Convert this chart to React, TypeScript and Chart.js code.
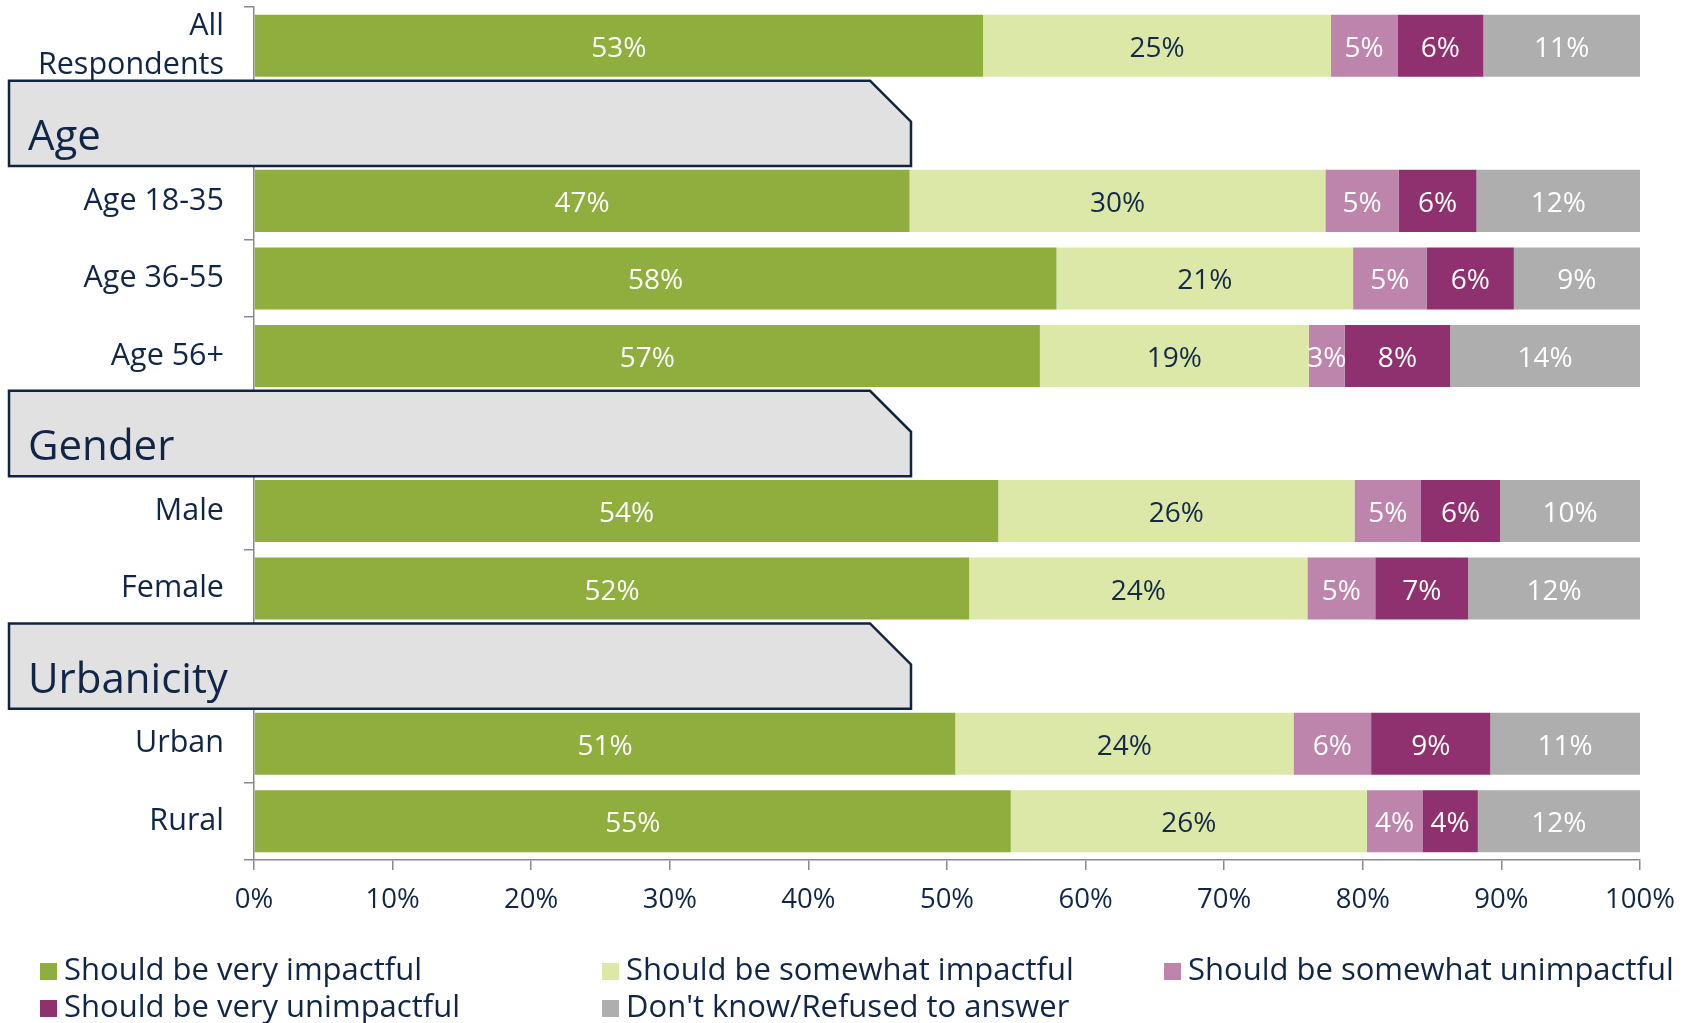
import React, { useEffect, useRef } from 'react';
import { Chart, registerables } from 'chart.js';

Chart.register(...registerables);

// ---- Data ----
const categories: (string | string[])[] = [
  ['All', 'Respondents'],
  '',
  'Age 18-35',
  'Age 36-55',
  'Age 56+',
  '',
  'Male',
  'Female',
  '',
  'Urban',
  'Rural',
];

const headerIndices = [1, 5, 8];
const headerLabels = ['Age', 'Gender', 'Urbanicity'];

const seriesNames = [
  'Should be very impactful',
  'Should be somewhat impactful',
  'Should be somewhat unimpactful',
  'Should be very unimpactful',
  "Don't know/Refused to answer",
];

const veryImpactful = [52.6, null, 47.3, 57.9, 56.7, null, 53.7, 51.6, null, 50.6, 54.6];
const somewhatImpactful = [25.1, null, 30.0, 21.4, 19.4, null, 25.7, 24.4, null, 24.4, 25.7];
const somewhatUnimpactful = [4.8, null, 5.3, 5.3, 2.6, null, 4.8, 4.9, null, 5.6, 4.0];
const veryUnimpactful = [6.2, null, 5.6, 6.3, 7.6, null, 5.7, 6.7, null, 8.6, 4.0];
const dontKnow = [11.3, null, 11.8, 9.1, 13.7, null, 10.1, 12.4, null, 10.8, 11.7];

const seriesValues = [veryImpactful, somewhatImpactful, somewhatUnimpactful, veryUnimpactful, dontKnow];

const seriesColors = ['#8FAE3E', '#DCE8A8', '#BD84AC', '#8F316F', '#AEAEAF'];
const labelColors = ['#FFFFFF', '#13294B', '#FFFFFF', '#FFFFFF', '#FFFFFF'];

const xTickValues = [0, 10, 20, 30, 40, 50, 60, 70, 80, 90, 100];

// ---- Styles ----
const FONT = "'Open Sans', 'Noto Sans', sans-serif";
const NAVY = '#112646';
const AXIS_GRAY = '#8A8A8A';

const dataLabelPlugin = {
  id: 'dataLabels',
  afterDatasetsDraw(chart: any) {
    const ctx = chart.ctx;
    ctx.save();
    ctx.font = `28px ${FONT}`;
    ctx.textAlign = 'center';
    ctx.textBaseline = 'middle';
    chart.data.datasets.forEach((ds: any, di: number) => {
      const meta = chart.getDatasetMeta(di);
      meta.data.forEach((el: any, i: number) => {
        const v = ds.data[i];
        if (v === null || v === undefined) return;
        const p = el.getProps(['x', 'y', 'base'], true);
        ctx.fillStyle = ds.labelColor;
        ctx.fillText(`${Math.round(v)}%`, (p.x + p.base) / 2, p.y + 3);
      });
    });
    ctx.restore();
  },
};

const headerPlugin = {
  id: 'sectionHeaders',
  afterDraw(chart: any) {
    const ctx = chart.ctx;
    const y = chart.scales.y;
    ctx.save();
    headerIndices.forEach((idx, k) => {
      const top = y.getPixelForValue(idx - 0.55);
      const bottom = y.getPixelForValue(idx + 0.55);
      const left = 9;
      const right = 911;
      const chamfer = 41;
      ctx.beginPath();
      ctx.moveTo(left, top);
      ctx.lineTo(right - chamfer, top);
      ctx.lineTo(right, top + chamfer);
      ctx.lineTo(right, bottom);
      ctx.lineTo(left, bottom);
      ctx.closePath();
      ctx.fillStyle = '#E1E1E1';
      ctx.fill();
      ctx.lineWidth = 2.5;
      ctx.strokeStyle = '#0F2440';
      ctx.stroke();
      ctx.fillStyle = NAVY;
      ctx.font = `42px ${FONT}`;
      ctx.textAlign = 'left';
      ctx.textBaseline = 'alphabetic';
      ctx.fillText(headerLabels[k], 28, bottom - 16);
    });
    ctx.restore();
  },
};

const legendPlugin = {
  id: 'customLegend',
  afterDraw(chart: any) {
    const ctx = chart.ctx;
    const cols = [40, 602, 1164];
    const rows = [971, 1008];
    ctx.save();
    ctx.font = `31px ${FONT}`;
    ctx.textAlign = 'left';
    ctx.textBaseline = 'middle';
    chart.data.datasets.forEach((ds: any, i: number) => {
      const x = cols[i % 3];
      const yy = rows[Math.floor(i / 3)];
      ctx.fillStyle = ds.backgroundColor;
      ctx.fillRect(x, yy - 8, 17, 17);
      ctx.fillStyle = NAVY;
      ctx.fillText(ds.label, x + 24, yy);
    });
    ctx.restore();
  },
};

export default function App() {
  const canvasRef = useRef<HTMLCanvasElement | null>(null);

  useEffect(() => {
    if (!canvasRef.current) return;
    const chart = new Chart(canvasRef.current, {
      type: 'bar',
      data: {
        labels: categories,
        datasets: seriesNames.map((name, i) => ({
          label: name,
          data: seriesValues[i],
          backgroundColor: seriesColors[i],
          borderWidth: 0,
          barPercentage: 0.8,
          categoryPercentage: 1,
          labelColor: labelColors[i],
        })) as any,
      },
      options: {
        indexAxis: 'y',
        responsive: false,
        animation: false,
        layout: { padding: { top: 7, right: 54, bottom: 103, left: 0 } },
        plugins: {
          legend: { display: false },
          tooltip: { enabled: false },
        },
        scales: {
          x: {
            stacked: true,
            min: 0,
            max: 100,
            afterBuildTicks: (scale: any) => {
              scale.ticks = xTickValues.map((v) => ({ value: v }));
            },
            afterFit: (scale: any) => {
              scale.height = 60;
              scale.paddingLeft = 0;
              scale.paddingRight = 0;
            },
            grid: {
              drawOnChartArea: false,
              drawTicks: true,
              tickLength: 10,
              color: AXIS_GRAY,
              lineWidth: 1.5,
            },
            border: { color: AXIS_GRAY, width: 1.5 },
            ticks: {
              color: NAVY,
              font: { family: FONT, size: 27.5 },
              padding: 14,
              maxRotation: 0,
              callback: (v: any) => `${v}%`,
            },
          },
          y: {
            stacked: true,
            afterFit: (scale: any) => {
              scale.width = 254;
              scale.paddingTop = 0;
              scale.paddingBottom = 0;
            },
            grid: {
              offset: true,
              drawOnChartArea: false,
              drawTicks: true,
              tickLength: 10,
              color: AXIS_GRAY,
              lineWidth: 1.5,
            },
            border: { color: AXIS_GRAY, width: 1.5 },
            ticks: {
              color: NAVY,
              font: { family: FONT, size: 30.5, lineHeight: 1.25 },
              padding: 20,
              autoSkip: false,
            },
          },
        },
      } as any,
      plugins: [dataLabelPlugin, headerPlugin, legendPlugin],
    });
    return () => chart.destroy();
  }, []);

  return (
    <div style={{ position: 'fixed', left: 0, top: 0, width: 1694, height: 1023, background: '#FFFFFF' }}>
      <canvas ref={canvasRef} width={1694} height={1023} style={{ width: 1694, height: 1023, display: 'block' }} />
    </div>
  );
}
